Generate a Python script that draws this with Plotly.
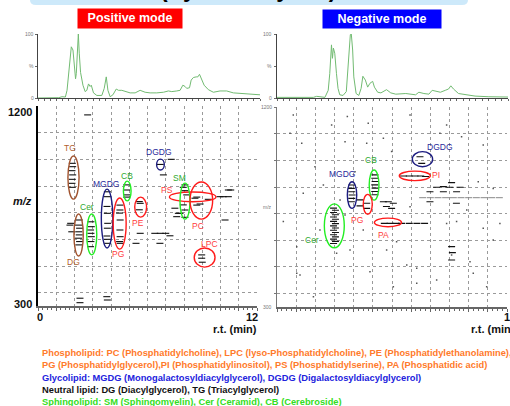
import plotly.graph_objects as go

W, H = 510, 406

# ---------------- data ----------------
# Total ion chromatograms (retention time in min, relative intensity %)
pos_tic_rt = [0.0, 0.67, 1.12, 1.30, 1.48, 1.57, 1.69, 1.80, 1.89, 1.96, 2.03, 2.07, 2.12, 2.18, 2.23, 2.30, 2.43, 2.55,
              2.64, 2.73, 2.82, 2.88, 3.00, 3.18, 3.45, 3.58, 3.69, 3.78, 3.90, 4.05, 4.23, 4.35, 4.53, 4.77, 4.98,
              5.25, 5.52, 5.79, 6.06, 6.42, 6.78, 7.05, 7.23, 7.50, 7.68, 7.83, 7.95, 8.04, 8.19, 8.28, 8.40, 8.55,
              8.64, 8.73, 8.82, 8.98, 9.21, 9.48, 9.84, 10.2, 10.56, 11.28, 12.0]
pos_tic_int = [0, 0, 0.5, 2, 1.5, 12, 49, 80, 75, 50, 30, 38, 68, 100, 70, 40, 20, 10,
               12, 22, 18, 20, 8, 4, 4, 15, 33, 12, 2, 5, 14, 12, 12, 10, 8,
               8, 12, 9, 8, 8, 9, 11, 10, 11, 12, 20, 18, 15, 16, 28, 32, 33,
               33, 37, 30, 20, 13, 9, 11, 11, 8, 6, 5]

neg_tic_rt = [0.0, 1.89, 2.06, 2.49, 2.66, 2.74, 2.83, 2.88, 2.93, 3.00, 3.09, 3.17, 3.26, 3.43, 3.60, 3.70, 3.81,
              3.86, 3.93, 3.99, 4.11, 4.25, 4.37, 4.46, 4.59, 4.71, 4.83, 4.97, 5.06, 5.23, 5.40, 5.69, 5.91, 6.17,
              6.69, 7.20, 7.37, 7.63, 7.89, 8.06, 8.31, 8.49, 8.74, 8.91, 9.03, 9.17, 9.43, 9.77, 10.29, 10.97, 12.0]
neg_tic_int = [1, 1, 2.6, 1, 12, 38, 83, 62, 78, 70, 38, 15, 5, 4, 10, 49, 99,
               100, 75, 33, 7, 4, 15, 34, 28, 17, 23, 26, 17, 9, 8, 13, 8, 6,
               7, 5, 9, 7, 6, 12, 10, 9, 12, 14, 19, 14, 7, 5, 3, 2, 1.5]

# 2D maps: detected features (rt, m/z)
pos_rt = [1.88, 1.90, 1.86, 1.90, 1.88, 1.86, 1.88,
          2.26, 2.22, 2.28, 2.24, 2.26, 2.22, 2.28, 2.24, 1.79, 1.85, 1.75,
          2.90, 2.92, 2.88, 2.90, 2.92, 2.90, 2.88,
          3.80, 3.80, 3.78, 3.80, 3.82, 3.80, 3.78, 3.80, 3.82,
          4.49, 4.49, 4.47, 4.50, 4.49, 4.50, 4.47, 4.50,
          4.86, 4.86, 4.88, 4.86,
          5.55, 5.60, 5.55, 5.60, 5.37,
          6.70, 7.30, 6.87,
          7.96, 8.05, 8.05, 8.15, 8.60, 8.70, 8.88, 9.33, 7.50, 7.78, 8.05, 7.96, 8.05, 7.69, 7.60, 8.70,
          9.97, 10.15, 10.43, 10.43, 10.56, 10.25,
          6.40, 6.70, 7.00, 7.23, 6.68,
          8.97, 8.97, 9.00,
          2.30, 2.30, 3.77, 3.80, 2.72]
pos_mz = [942, 927, 909, 890, 870, 852, 834,
          687, 664, 650, 634, 620, 605, 590, 575, 672, 634, 664,
          679, 657, 642, 627, 612, 590, 567,
          814, 792, 748, 717, 672, 650, 615, 600, 582,
          754, 732, 718, 687, 642, 612, 590, 582,
          845, 822, 800, 790,
          770, 762, 733, 627, 582,
          937, 960, 890,
          834, 845, 819, 800, 785, 790, 759, 780, 740, 717, 699, 755, 732, 717, 702, 754,
          792, 792, 792, 822, 822, 687,
          627, 627, 627, 616, 582,
          530, 515, 497,
          335, 315, 342, 327, 1160]

neg_rt = [7.46, 7.55,
          6.60, 6.90, 7.20, 7.50, 7.75,
          5.11, 5.10, 5.12, 5.10, 5.12, 5.10, 5.11,
          3.90, 3.88, 3.90, 3.92, 3.90, 3.88,
          2.95, 3.05, 2.95, 3.05, 2.95, 3.05, 2.95, 3.05, 2.95, 3.05, 2.95, 3.05, 2.95, 3.05, 2.95, 3.05, 2.95,
          4.68, 4.68, 4.33, 4.33,
          5.81, 6.07, 5.71, 5.98, 5.55,
          5.60, 5.90, 6.20, 6.50, 6.90, 7.30, 7.70,
          9.11, 8.68, 8.33, 9.02, 9.55, 7.98, 8.68, 9.37, 7.98, 9.36,
          9.11, 9.15, 9.11]
neg_mz = [977, 947,
          890, 890, 890, 890, 888,
          895, 880, 865, 850, 835, 820, 805,
          849, 834, 819, 804, 789, 774,
          745, 735, 725, 715, 705, 695, 685, 675, 665, 655, 645, 635, 625, 615, 605, 595, 585,
          767, 744, 782, 755,
          774, 767, 752, 744, 774,
          676, 676, 676, 676, 676, 676, 676,
          860, 842, 839, 839, 839, 819, 819, 819, 774, 767,
          571, 544, 511]
neg_line_rt = [7.6, 8.0, 8.4, 8.8, 9.2, 9.6, 10.0, 10.4, 10.8, 11.2, 11.6]
neg_line_mz = [792, 792, 792, 792, 792, 792, 792, 792, 792, 792, 792]
neg_noise_rt = [0.85, 2.85, 3.67, 4.76, 6.94, 0.68, 1.29, 3.55, 5.55, 8.50, 9.63, 10.76, 1.98, 4.07, 2.42, 1.37,
                3.29, 2.24, 3.55, 3.81, 5.72, 6.24, 1.20, 4.85, 8.33, 10.07, 10.94, 11.63, 8.85, 9.37, 0.33, 1.03,
                6.77, 7.29, 4.50, 10.76, 6.94, 4.68, 5.98, 8.85, 10.50, 11.28, 9.90, 9.11, 10.24, 7.29, 1.90, 1.03,
                6.07, 3.11, 11.28]
neg_noise_mz = [1165, 1120, 1158, 1128, 1165, 1083, 1038, 1045, 1060, 1083, 1067, 1030, 932, 909, 849, 812,
                782, 646, 714, 556, 556, 593, 443, 458, 421, 503, 390, 676, 676, 684, 684, 571,
                488, 473, 646, 654, 751, 1038, 1000, 1120, 864, 834, 736, 533, 451, 406, 345, 451,
                390, 541, 601]

# Lipid class annotations (ellipse extents and label anchors, in rt / m/z)
pos_cls = ["TG", "DG", "Cer", "MGDG", "PG", "CB", "PE", "DGDG", "PS", "SM", "PC", "LPC"]
pos_grp = ["N", "N", "S", "G", "P", "S", "P", "G", "P", "S", "P", "P"]
pos_rt0 = [1.64, 1.97, 2.67, 3.47, 4.12, 4.68, 5.30, 6.50, 7.20, 7.78, 8.33, 8.56]
pos_rt1 = [2.25, 2.48, 3.22, 4.10, 4.83, 5.10, 5.95, 6.92, 9.75, 8.33, 9.57, 9.70]
pos_mz0 = [781, 525, 530, 561, 556, 773, 700, 912, 769, 691, 691, 475]
pos_mz1 = [975, 714, 714, 826, 786, 862, 790, 961, 813, 853, 858, 561]
pos_lab_rt = [1.75, 1.92, 2.68, 3.70, 4.38, 4.88, 5.48, 6.62, 7.07, 7.78, 8.77, 9.42]
pos_lab_mz = [1013, 498, 745, 847, 532, 883, 672, 991, 820, 874, 660, 580]

neg_cls = ["DGDG", "PI", "CB", "MGDG", "PG", "Cer", "PA"]
neg_grp = ["G", "P", "S", "G", "P", "S", "P"]
neg_rt0 = [7.06, 6.38, 4.81, 3.67, 4.50, 2.47, 5.08]
neg_rt1 = [8.12, 8.00, 5.32, 4.16, 4.97, 3.51, 6.50]
neg_mz0 = [932, 869, 781, 744, 717, 566, 661]
neg_mz1 = [1000, 912, 917, 864, 807, 764, 700]
neg_lab_rt = [8.50, 8.28, 4.89, 3.41, 4.16, 1.84, 5.58]
neg_lab_mz = [1022, 894, 962, 898, 691, 601, 623]

legend_lines = [
    "Phospholipid: PC (Phosphatidylcholine), LPC (lyso-Phosphatidylcholine), PE (Phosphatidylethanolamine),",
    "PG (Phosphatidylglycerol),PI (Phosphatidylinositol), PS (Phosphatidylserine), PA (Phosphatidic acid)",
    "Glycolipid: MGDG (Monogalactosyldiacylglycerol), DGDG (Digalactosyldiacylglycerol)",
    "Neutral lipid: DG (Diacylglycerol), TG (Triacylglycerol)",
    "Sphingolipid: SM (Sphingomyelin), Cer (Ceramid), CB (Cerebroside)",
]

# ---------------- styling ----------------
ELL = {"N": "#a0522d", "S": "#22ee22", "G": "#1c1c80", "P": "#ff1a1a"}
LAB = {"N": "#b0602e", "S": "#2ea82e", "G": "#2a2a9a", "P": "#ff3c3c"}
legend_colors = ["#ff7a2a", "#ff7a2a", "#2222dd", "#111111", "#33dd22"]
FONT = "Arial, Liberation Sans, sans-serif"


def px(x):
    return x / W


def py(y):
    return 1 - y / H


fig = go.Figure()

# chromatograms
fig.add_trace(go.Scatter(x=pos_tic_rt, y=pos_tic_int, mode="lines", line=dict(color="#72bb72", width=1),
                         xaxis="x", yaxis="y", hoverinfo="skip"))
fig.add_trace(go.Scatter(x=neg_tic_rt, y=neg_tic_int, mode="lines", line=dict(color="#72bb72", width=1),
                         xaxis="x2", yaxis="y2", hoverinfo="skip"))

# 2D maps
dash_marker = dict(symbol="line-ew", size=5, line=dict(color="#111", width=1.1))
fig.add_trace(go.Scatter(x=pos_rt, y=pos_mz, mode="markers", marker=dash_marker, xaxis="x3", yaxis="y3"))
fig.add_trace(go.Scatter(x=neg_rt, y=neg_mz, mode="markers", marker=dash_marker, xaxis="x4", yaxis="y4"))
fig.add_trace(go.Scatter(x=neg_line_rt, y=neg_line_mz, mode="markers",
                         marker=dict(symbol="line-ew", size=5, line=dict(color="#888", width=1)),
                         xaxis="x4", yaxis="y4"))
fig.add_trace(go.Scatter(x=neg_noise_rt, y=neg_noise_mz, mode="markers",
                         marker=dict(symbol="square", size=1.5, color="#555"), xaxis="x4", yaxis="y4"))

shapes = []
annotations = []

# ellipses + labels
for (cls, grp, r0, r1, m0, m1, lr, lm, ax) in (
        [(pos_cls[i], pos_grp[i], pos_rt0[i], pos_rt1[i], pos_mz0[i], pos_mz1[i], pos_lab_rt[i], pos_lab_mz[i], "3")
         for i in range(len(pos_cls))] +
        [(neg_cls[i], neg_grp[i], neg_rt0[i], neg_rt1[i], neg_mz0[i], neg_mz1[i], neg_lab_rt[i], neg_lab_mz[i], "4")
         for i in range(len(neg_cls))]):
    shapes.append(dict(type="circle", xref="x" + ax, yref="y" + ax, x0=r0, x1=r1, y0=m0, y1=m1,
                       line=dict(color=ELL[grp], width=1.4)))
    annotations.append(dict(x=lr, y=lm, xref="x" + ax, yref="y" + ax, text=cls, showarrow=False,
                            xanchor="center", yanchor="middle",
                            font=dict(family=FONT, size=8.5, color=LAB[grp])))

# top banner
shapes.append(dict(type="path", xref="paper", yref="paper",
                   path=f"M {px(30)},{py(-20)} L {px(30)},{py(0)} Q {px(30)},{py(5)} {px(36)},{py(5)} "
                        f"L {px(462)},{py(5)} Q {px(468)},{py(5)} {px(468)},{py(0)} L {px(468)},{py(-20)} Z",
                   fillcolor="#cde9fa", line=dict(width=0), layer="below"))
annotations.append(dict(x=px(248), y=py(4), xref="paper", yref="paper", xanchor="center", yanchor="bottom",
                        text="<b>(Synechocystis)</b>", showarrow=False,
                        font=dict(family=FONT, size=23, color="#000")))

# mode boxes (annotation boxes with coloured background)
annotations.append(dict(x=px(130), y=py(18.75), xref="paper", yref="paper", xanchor="center", yanchor="middle",
                        text="<b>Positive mode</b>", showarrow=False, bgcolor="#ff0000", borderpad=0,
                        width=104, height=18.5, font=dict(family=FONT, size=12.5, color="white")))
annotations.append(dict(x=px(382), y=py(18.75), xref="paper", yref="paper", xanchor="center", yanchor="middle",
                        text="<b>Negative mode</b>", showarrow=False, bgcolor="#0000ff", borderpad=0,
                        width=118, height=17.5, font=dict(family=FONT, size=12.5, color="white")))

# small grey axis labels
small = dict(family=FONT, size=5, color="#777")
for x0 in (36, 274):
    for txt, yy in (("100", 34), ("%", 66), ("0", 98)):
        annotations.append(dict(x=px(x0), y=py(yy), xref="paper", yref="paper", xanchor="right",
                                yanchor="middle", text=txt, showarrow=False, font=small))
for txt, yy in (("1200", 107), ("m/z", 207), ("300", 307)):
    annotations.append(dict(x=px(274), y=py(yy), xref="paper", yref="paper", xanchor="right",
                            yanchor="middle", text=txt, showarrow=False, font=small))

# big bold axis labels
big = dict(family=FONT, size=11, color="#111")
for txt, xx, yy, anc in (("<b>1200</b>", 33, 112, "right"), ("<b>300</b>", 33, 304, "right"),
                         ("<b>0</b>", 40, 317, "center"), ("<b>12</b>", 252, 316.5, "center"),
                         ("<b>r.t. (min)</b>", 235, 328.5, "center"), ("<b>r.t. (min)</b>", 470, 328.5, "left"),
                         ("<b>12</b>", 503, 316.5, "left")):
    annotations.append(dict(x=px(xx), y=py(yy), xref="paper", yref="paper", xanchor=anc, yanchor="middle",
                            text=txt, showarrow=False, borderpad=0, font=big))
annotations.append(dict(x=px(22), y=py(201), xref="paper", yref="paper", xanchor="center", yanchor="middle",
                        text="<b><i>m/z</i></b>", showarrow=False, font=dict(family=FONT, size=11, color="#111")))

# legend text
for i, (line, col) in enumerate(zip(legend_lines, legend_colors)):
    annotations.append(dict(x=px(40), y=py([353, 365, 377.5, 389.5, 402][i]), xref="paper", yref="paper",
                            xanchor="left", yanchor="middle", text=f"<b>{line}</b>", showarrow=False,
                            font=dict(family=FONT, size=9.3, color=col)))

# ---------------- axes ----------------
tic_x = dict(range=[0, 12], showgrid=False, zeroline=False, showticklabels=False, showline=True,
             linecolor="#444", linewidth=1, ticks="outside", ticklen=2, tickcolor="#666", dtick=1 / 3)
tic_y = dict(range=[0, 100], showgrid=False, zeroline=False, showticklabels=False, showline=True,
             linecolor="#444", linewidth=1, ticks="outside", ticklen=2, tickcolor="#666",
             tickvals=[0, 50, 100])
map_x = dict(range=[0, 12], dtick=1, tick0=0, showgrid=True, griddash="dot", gridcolor="#9a9a9a", gridwidth=1,
             zeroline=False, showticklabels=False, showline=True, linecolor="#666", linewidth=2,
             ticks="outside", ticklen=3, tickcolor="#666",
             minor=dict(dtick=0.25, ticks="outside", ticklen=2, tickcolor="#666", showgrid=False))
map_y = dict(range=[300, 1200], dtick=120, tick0=0, showgrid=True, griddash="dot", gridcolor="#9a9a9a",
             gridwidth=1, zeroline=False, showticklabels=False, showline=True)

fig.update_layout(
    width=W, height=H, margin=dict(l=0, r=0, t=0, b=0), showlegend=False,
    paper_bgcolor="white", plot_bgcolor="white",
    xaxis=dict(domain=[px(38), px(260)], anchor="y", **tic_x),
    yaxis=dict(domain=[py(98), py(34)], anchor="x", **tic_y),
    xaxis2=dict(domain=[px(277), px(508)], anchor="y2", **tic_x),
    yaxis2=dict(domain=[py(98), py(34)], anchor="x2", **tic_y),
    xaxis3=dict(domain=[px(38), px(257)], anchor="y3", **map_x),
    yaxis3=dict(domain=[py(306), py(106)], anchor="x3", linecolor="#000", linewidth=2, ticks="", **map_y),
    xaxis4=dict(domain=[px(277), px(507)], anchor="y4", **map_x),
    yaxis4=dict(domain=[py(306.7), py(107.3)], anchor="x4", linecolor="#777", linewidth=1, ticks="outside",
                ticklen=2, tickcolor="#777", **map_y),
    shapes=shapes, annotations=annotations,
)

fig.write_html("out.html", config={"displayModeBar": False},
               post_script="document.body.style.margin='0';document.body.style.overflow='hidden';")
